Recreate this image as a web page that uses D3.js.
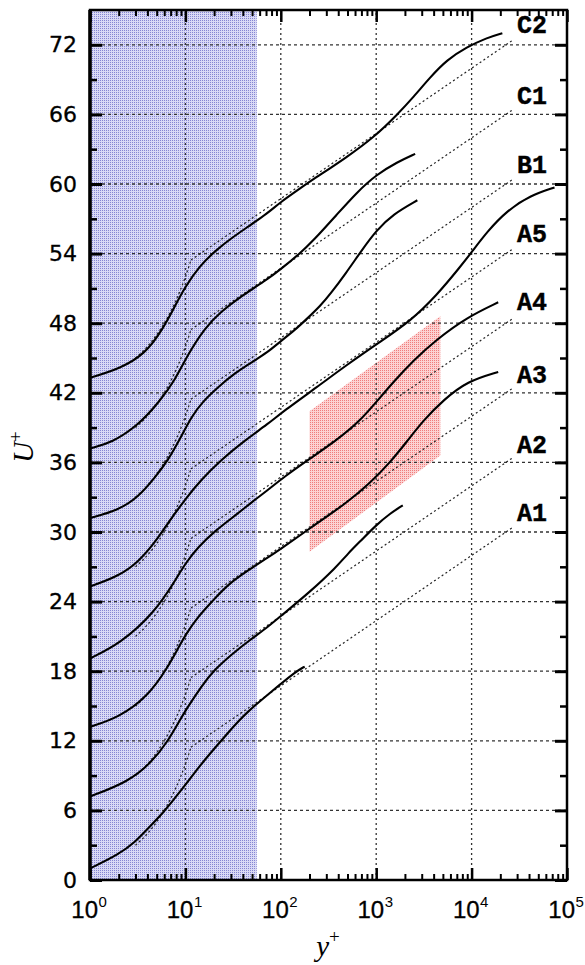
<!DOCTYPE html>
<html><head><meta charset="utf-8">
<script src="https://cdn.jsdelivr.net/npm/d3@7"></script>
<style>html,body{margin:0;padding:0;background:#fff}svg{display:block}</style>
</head><body><svg id="c" width="585" height="965"></svg>
<script>
// ---------- data ----------
const curveNames = ["A1","A2","A3","A4","A5","B1","C1","C2"];
const curveShift = [0,6,12,18,24,30,36,42];          // each profile displaced by 6 units
const labelU = [31.5,37.4,43.4,49.7,55.6,61.5,67.5,73.6];
const labelYPlus = 30000;

// profiles: [y+, U+] (unshifted)
const A1 = [[1,1.0],[2,2.2],[3,3.3],[4,4.4],[6,5.9],[8,7.2],[10,8.2],[15,10.1],[20,11.3],[28,12.7],[36,13.7],[45,14.5],[60,15.4],[100,16.9],[140,17.9],[178,18.4]];
const A2 = [[1,1.2],[2.5,2.45],[4.4,4.1],[6.6,6.0],[8.8,7.8],[10,8.6],[15,10.8],[20,12.1],[30,13.4],[47.5,14.7],[73,15.8],[98,16.7],[200,18.8],[385,21.0],[500,22.1],[700,23.3],[1000,24.6],[1400,25.6],[1900,26.3]];
const A3 = [[1,1.2],[2,2.0],[4,3.8],[6.4,6.2],[8.8,8.3],[10,9.1],[13.2,10.6],[19.5,12.1],[28,13.5],[47.5,14.8],[73,15.8],[98,16.5],[200,18.3],[490,20.5],[860,22.2],[1400,24.0],[2100,25.8],[3100,27.6],[5100,29.4],[9000,31.0],[19000,31.8]];
const A4 = [[1,1.1],[2.1,2.4],[4.8,5.1],[7.8,7.8],[10,9.3],[13.6,10.7],[20.4,12.1],[35.6,13.6],[50,14.6],[73,15.6],[106,16.7],[200,18.3],[385,19.9],[680,21.6],[1000,23.2],[1500,24.9],[2460,26.8],[4300,28.6],[8900,30.5],[19000,31.8]];
const A5 = [[1,1.3],[2,2.2],[3.2,3.4],[4.8,5.1],[6.6,6.8],[9.9,8.8],[14.6,10.5],[23.6,12.2],[42,13.9],[73,15.3],[106,16.4],[240,18.5],[490,20.4],[1100,22.4],[2300,24.2],[4300,26.4],[7500,28.8],[10400,30.3],[14600,31.9],[23500,33.7],[41000,35.0],[74000,35.7]];
const B1 = [[1,1.2],[2,1.9],[3.2,3.0],[4.8,4.7],[6.6,6.2],[9,8.2],[11.5,9.9],[15,11.2],[22,12.5],[33,13.7],[49,14.6],[73,15.5],[98,16.4],[140,17.4],[189,18.4],[260,19.5],[330,20.5],[490,22.4],[680,24.1],[1000,26.0],[1500,27.4],[2700,28.6]];
const C1 = [[1,1.2],[1.7,1.7],[3.2,3.2],[5.3,5.2],[7.8,7.1],[10.6,9.3],[16,11.6],[23.6,13.0],[38,14.3],[73,15.8],[98,16.6],[158,18.0],[218,19.1],[390,21.4],[630,23.3],[1000,24.8],[1670,25.9],[2560,26.6]];
const C2 = [[1,1.3],[2.1,2.1],[3.8,3.4],[5.5,5.2],[7.6,7.3],[9.7,9.0],[13.9,10.9],[21,12.3],[30,13.3],[45,14.3],[73,15.5],[98,16.4],[158,17.6],[218,18.4],[490,20.3],[970,22.1],[1670,24.0],[2460,25.5],[3680,27.2],[5500,28.7],[8900,29.8],[14400,30.6],[21000,31.0]];
const profiles = [A1,A2,A3,A4,A5,B1,C1,C2];

// reference lines (unshifted): viscous sublayer U+=y+ and log law
const sublayerLine = [[3,3],[4,4],[5,5],[6,6],[7,7],[8,8],[9,9],[10,10],[11.45,11.45]];
const logLawLine = [[11.45,11.45],[27000,30.4]];

// shaded regions
const blueRegionEnd = 56;
const redRegion = [[200,28.3],[200,40.4],[4700,48.6],[4700,36.6]];

// axes
const yMajor = [0,6,12,18,24,30,36,42,48,54,60,66,72];
const yTickLabels = ["0","6","12","18","24","30","36","42","48","54","60","66","72"];
const yMinor = [3,9,15,21,27,33,39,45,51,57,63,69];
const xMajor = [1,10,100,1000,10000,100000];
const xTickExp = ["0","1","2","3","4","5"];
const xGrid = [10,100,1000,10000];
const yGrid = [6,12,18,24,30,36,42,48,54,60,66,72];

// ---------- drawing ----------
const svg = d3.select("#c");
const x = d3.scaleLog().domain([1,1e5]).range([90,567]);
const y = d3.scaleLinear().domain([0,75]).range([880,10]);

const defs = svg.append("defs");
const pb = defs.append("pattern").attr("id","pb").attr("width",2).attr("height",2).attr("patternUnits","userSpaceOnUse");
pb.append("rect").attr("width",2).attr("height",2).attr("fill","#d9d9f5");
pb.append("rect").attr("width",1).attr("height",1).attr("fill","#8585d2");
const pr = defs.append("pattern").attr("id","pr").attr("width",2).attr("height",2).attr("patternUnits","userSpaceOnUse");
pr.append("rect").attr("width",2).attr("height",2).attr("fill","#fcd2d2");
pr.append("rect").attr("width",1).attr("height",1).attr("fill","#f07c7c");

svg.append("rect")
  .attr("x",x(1)).attr("y",y(75))
  .attr("width",x(blueRegionEnd)-x(1)).attr("height",y(0)-y(75))
  .attr("fill","url(#pb)");

svg.append("path")
  .attr("d", d3.line().x(d=>x(d[0])).y(d=>y(d[1]))(redRegion)+"Z")
  .attr("fill","url(#pr)");

// grid
svg.append("g").selectAll("line").data(yGrid).join("line")
  .attr("x1",x(1)).attr("x2",x(1e5)).attr("y1",d=>y(d)).attr("y2",d=>y(d))
  .attr("stroke","#333").attr("stroke-width",1.3).attr("stroke-dasharray","3,3");
svg.append("g").selectAll("line").data(xGrid).join("line")
  .attr("y1",y(0)).attr("y2",y(75)).attr("x1",d=>x(d)).attr("x2",d=>x(d))
  .attr("stroke","#333").attr("stroke-width",1.3).attr("stroke-dasharray","2,3");

// reference lines
const refLine = d3.line().x(d=>x(d[0])).y(d=>y(d[1])).curve(d3.curveMonotoneX);
const gRef = svg.append("g");
curveShift.forEach(s=>{
  gRef.append("path").attr("d", refLine(sublayerLine.map(p=>[p[0],p[1]+s])))
    .attr("fill","none").attr("stroke","#222").attr("stroke-width",1.2).attr("stroke-dasharray","2,2.6");
  gRef.append("path").attr("d", refLine(logLawLine.map(p=>[p[0],p[1]+s])))
    .attr("fill","none").attr("stroke","#222").attr("stroke-width",1.2).attr("stroke-dasharray","2,2.6");
});

// profiles
const profLine = d3.line().x(d=>x(d[0])).y(d=>y(d[1])).curve(d3.curveBasis);
const gC = svg.append("g");
profiles.forEach((pts,i)=>{
  gC.append("path").attr("d", profLine(pts.map(p=>[p[0],p[1]+curveShift[i]])))
    .attr("fill","none").attr("stroke","#000").attr("stroke-width",2.1);
});

// curve labels
svg.append("g").selectAll("text").data(curveNames).join("text")
  .attr("x",x(labelYPlus)).attr("y",(d,i)=>y(labelU[i]))
  .attr("dominant-baseline","central")
  .attr("font-family","Liberation Mono, Courier New, monospace").attr("font-weight","bold")
  .attr("font-size",25).attr("fill","#000").attr("stroke","#000").attr("stroke-width",0.4).text(d=>d);

// ticks
function ticks(axis, vals, size, width, tr){
  const g = svg.append("g").attr("transform",tr)
    .call(axis.tickValues(vals).tickSizeInner(size).tickSizeOuter(0).tickFormat(""));
  g.select(".domain").remove();
  g.selectAll("line").attr("stroke","#000").attr("stroke-width",width);
}
const xMinor = x.ticks().filter(v=>xMajor.indexOf(v)<0);
ticks(d3.axisLeft(y), yMajor, -12, 3, `translate(${x(1)},0)`);
ticks(d3.axisLeft(y), yMinor, -7, 2.5, `translate(${x(1)},0)`);
ticks(d3.axisRight(y), yMajor, -12, 3, `translate(${x(1e5)},0)`);
ticks(d3.axisRight(y), yMinor, -7, 2.5, `translate(${x(1e5)},0)`);
ticks(d3.axisBottom(x), xMajor, -12, 2.5, `translate(0,${y(0)})`);
ticks(d3.axisBottom(x), xMinor, -6, 2, `translate(0,${y(0)})`);
ticks(d3.axisTop(x), xMajor, -12, 2.5, `translate(0,${y(75)})`);
ticks(d3.axisTop(x), xMinor, -6, 2, `translate(0,${y(75)})`);

// frame
svg.append("rect").attr("x",x(1)).attr("y",y(75)).attr("width",x(1e5)-x(1)).attr("height",y(0)-y(75))
  .attr("fill","none").attr("stroke","#000").attr("stroke-width",2.5);
svg.append("line").attr("x1",x(1)).attr("x2",x(1)).attr("y1",y(75)).attr("y2",y(0))
  .attr("stroke","#000").attr("stroke-width",3.5);

// y tick labels
svg.append("g").selectAll("text").data(yMajor).join("text")
  .attr("x",77).attr("y",d=>y(d)).attr("text-anchor","end").attr("dominant-baseline","central")
  .attr("font-family","DejaVu Sans, sans-serif").attr("font-size",22).attr("fill","#000")
  .attr("stroke","#000").attr("stroke-width",0.3)
  .text((d,i)=>yTickLabels[i]);

// x tick labels 10^n
const gx = svg.append("g");
xMajor.forEach((v,i)=>{
  gx.append("text").attr("x",x(v)+8).attr("y",918).attr("text-anchor","end")
    .attr("font-family","Liberation Sans, Arial, sans-serif").attr("font-size",24).attr("fill","#000")
    .attr("stroke","#000").attr("stroke-width",0.3).text("10");
  gx.append("text").attr("x",x(v)+8.5).attr("y",907).attr("text-anchor","start")
    .attr("font-family","Liberation Sans, Arial, sans-serif").attr("font-size",15).attr("fill","#000").text(xTickExp[i]);
});

// axis titles
const ty = svg.append("text").attr("transform","translate(33,447) rotate(-90)").attr("text-anchor","middle")
  .attr("font-family","Liberation Serif, serif").attr("fill","#000");
ty.append("tspan").attr("font-style","italic").attr("font-size",29).text("U");
ty.append("tspan").attr("font-size",19).attr("dy",-11).text("+");

const tx = svg.append("text").attr("x",328).attr("y",956).attr("text-anchor","middle")
  .attr("font-family","Liberation Serif, serif").attr("fill","#000");
tx.append("tspan").attr("font-style","italic").attr("font-size",29).text("y");
tx.append("tspan").attr("font-size",19).attr("dy",-13).text("+");
</script>
</body></html>
